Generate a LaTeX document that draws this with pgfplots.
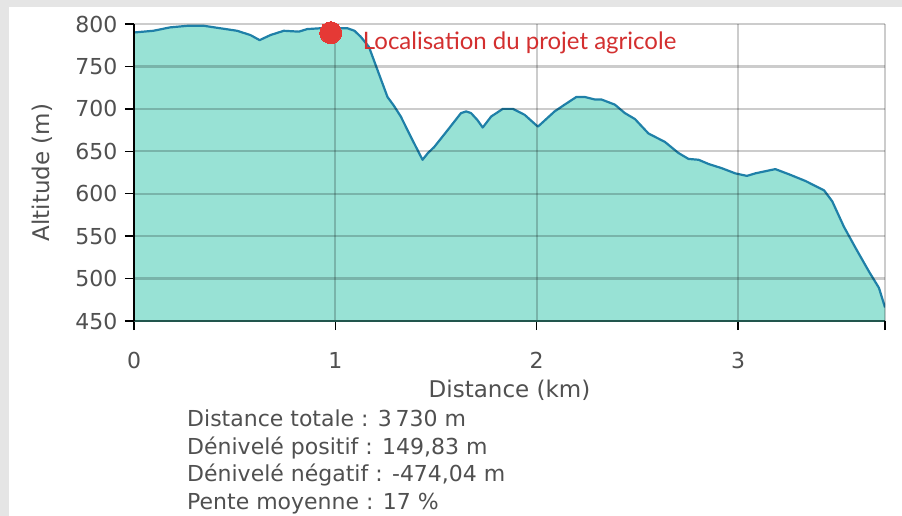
\documentclass[border=0pt]{standalone}
\usepackage{pgfplots}
\pgfplotsset{compat=1.18}
\usepackage{pgfplotstable}
\usepackage{fontspec}
\setmainfont{DejaVu Sans}
\newfontfamily\annfont{Lato}
\definecolor{bggrey}{HTML}{E5E5E5}
\definecolor{fillc}{HTML}{98E2D5}
\definecolor{linec}{HTML}{1F80A8}
\definecolor{txtc}{HTML}{505050}
\definecolor{redtxt}{HTML}{D32F2F}
\definecolor{dotc}{HTML}{E53935}
\definecolor{xaxc}{HTML}{22564D}

\pgfplotstableread{
x y
0.000 790
0.096 792
0.179 796
0.271 798
0.344 798
0.428 795
0.512 792
0.578 787
0.624 781
0.678 787
0.744 792
0.819 791
0.860 794
0.927 795
1.060 795
1.095 792
1.126 785
1.167 773
1.209 746
1.259 714
1.290 704
1.325 691
1.375 667
1.433 640
1.460 648
1.491 655
1.558 675
1.624 695
1.650 697
1.674 695
1.705 687
1.732 678
1.774 691
1.832 700
1.882 700
1.940 693
2.006 679
2.089 697
2.139 705
2.197 714
2.239 714
2.289 711
2.322 711
2.388 705
2.438 695
2.488 688
2.555 671
2.637 661
2.704 648
2.754 641
2.804 640
2.854 635
2.920 630
2.986 624
3.044 621
3.086 624
3.185 629
3.252 623
3.335 615
3.385 609
3.427 604
3.468 591
3.526 561
3.584 536
3.651 508
3.700 489
3.730 466
}\profile

\pgfplotstableread{
x y
0.977 789.7
}\site

\begin{document}
\begin{tikzpicture}
\path[use as bounding box, fill=bggrey] (-134bp,-195bp) rectangle (768bp,321bp);
\fill[white] (-125bp,-195bp) rectangle (768bp,314bp);
\begin{axis}[
  at={(0,0)}, anchor=south west,
  scale only axis, width=751bp, height=297bp,
  xmin=0, xmax=3.73, ymin=450, ymax=800,
  axis x line=bottom, axis y line=left,
  axis line style={-, line width=1.5bp},
  x axis line style={color=xaxc},
  y axis line style={color=black},
  axis on top,
  tick align=outside,
  major tick length=9bp,
  every tick/.append style={black, line width=1.5bp},
  xtick={0,1,2,3},
  extra x ticks={3.73}, extra x tick labels={},
  ytick={450,500,...,800},
  grid=major,
  every axis grid/.style={line width=2.2bp, draw=black, draw opacity=0.2},
  major grid style={line width=2.2bp, draw=black, draw opacity=0.2},
  /pgf/number format/assume math mode=true,
  ticklabel style={font=\fontsize{22bp}{26bp}\selectfont, text=txtc},
  xticklabel style={yshift=-19bp},
  yticklabel style={xshift=-4bp},
  xlabel={Distance (km)},
  ylabel={Altitude (m)},
  every axis x label/.style={at={(rel axis cs:0.5,0)}, yshift=-69bp, anchor=center, font=\fontsize{23bp}{27bp}\selectfont, text=txtc},
  every axis y label/.style={at={(rel axis cs:0,0.5)}, xshift=-92bp, rotate=90, anchor=center, font=\fontsize{23bp}{27bp}\selectfont, text=txtc},
]
\addplot[fill=fillc, draw=none] table[x=x,y=y] {\profile} \closedcycle;
\addplot[color=linec, line width=2.2bp, line join=round] table[x=x,y=y] {\profile};
\end{axis}
\begin{axis}[
  at={(0,0)}, anchor=south west,
  scale only axis, width=751bp, height=297bp,
  xmin=0, xmax=3.73, ymin=450, ymax=800,
  hide axis, clip=false,
]
\addplot[only marks, mark=*, mark size=11bp, color=dotc, mark options={fill=dotc, draw=dotc, line width=0pt}] table[x=x,y=y] {\site};
\node[anchor=base west, inner sep=0pt, text=redtxt, font=\annfont\fontsize{24bp}{28bp}\selectfont] at (axis cs:1.136,770.5) {Localisation du projet agricole};
\end{axis}
\begin{scope}[every node/.style={anchor=base west, inner sep=0pt, text=txtc, font=\fontsize{22bp}{26bp}\selectfont}]
\node at (53bp,-105bp) {Distance totale : 3\,730 m};
\node at (53bp,-133bp) {Dénivelé positif : 149,83 m};
\node at (53bp,-160bp) {Dénivelé négatif : -474,04 m};
\node at (53bp,-188bp) {Pente moyenne : 17 \%};
\end{scope}
\end{tikzpicture}
\end{document}
